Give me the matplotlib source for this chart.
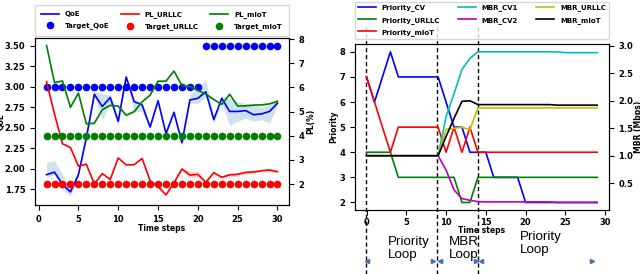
import matplotlib
matplotlib.use('Agg')
import matplotlib.pyplot as plt
from matplotlib.transforms import blended_transform_factory

# ---------------- left panel data ----------------
t_left = [1, 2, 3, 4, 5, 6, 7, 8, 9, 10, 11, 12, 13, 14, 15,
          16, 17, 18, 19, 20, 21, 22, 23, 24, 25, 26, 27, 28, 29, 30]
qoe = [1.93, 1.96, 1.81, 1.72, 1.93, 2.38, 2.91, 2.76, 2.87, 2.58,
       3.12, 2.82, 2.78, 2.51, 2.83, 2.43, 2.69, 2.32, 2.84, 2.86,
       2.94, 2.60, 2.86, 2.70, 2.70, 2.71, 2.66, 2.67, 2.70, 2.80]
qoe_lo = [1.90, 1.93, 1.75, 1.67, 1.90, 2.35, 2.88, 2.60, 2.80, 2.53,
          3.10, 2.70, 2.70, 2.49, 2.81, 2.41, 2.67, 2.26, 2.80, 2.80,
          2.88, 2.56, 2.80, 2.53, 2.58, 2.62, 2.58, 2.60, 2.56, 2.77]
qoe_hi = [2.08, 2.10, 1.93, 1.75, 1.96, 2.40, 2.94, 2.92, 2.90, 2.62,
          3.14, 2.85, 2.80, 2.53, 2.85, 2.45, 2.71, 2.35, 2.90, 3.00,
          3.08, 2.64, 2.89, 2.86, 2.82, 2.80, 2.78, 2.75, 2.78, 2.83]
pl_urllc = [6.24, 4.90, 3.67, 3.51, 2.74, 2.82, 2.00, 2.43, 2.19, 3.08,
            2.79, 2.80, 3.06, 2.14, 1.89, 1.55, 2.05, 2.62, 2.37, 2.40,
            2.07, 2.47, 2.28, 2.38, 2.40, 2.48, 2.50, 2.55, 2.58, 2.51]
pl_urllc_lo = [6.22, 4.88, 3.65, 3.49, 2.72, 2.80, 1.98, 2.41, 2.17, 3.06,
               2.77, 2.78, 3.04, 2.12, 1.82, 1.53, 2.03, 2.55, 2.25, 2.28,
               2.04, 2.43, 2.22, 2.30, 2.32, 2.42, 2.45, 2.48, 2.50, 2.46]
pl_urllc_hi = [6.26, 4.92, 3.69, 3.53, 2.76, 2.84, 2.02, 2.45, 2.21, 3.10,
               2.81, 2.82, 3.08, 2.18, 1.96, 1.57, 2.07, 2.68, 2.52, 2.55,
               2.10, 2.51, 2.33, 2.45, 2.48, 2.56, 2.58, 2.62, 2.65, 2.56]
pl_miot = [7.74, 6.20, 6.27, 5.18, 5.77, 4.49, 4.52, 5.08, 5.26, 5.23,
           4.85, 5.00, 5.41, 5.68, 6.26, 6.26, 6.68, 6.08, 6.04, 5.88,
           5.73, 5.50, 5.30, 5.72, 5.23, 5.24, 5.27, 5.28, 5.32, 5.43]
pl_miot_lo = [7.72, 6.18, 6.25, 5.15, 5.74, 4.42, 4.46, 5.05, 5.23, 5.20,
              4.78, 4.93, 5.38, 5.65, 6.23, 6.23, 6.65, 6.05, 6.01, 5.85,
              5.70, 5.47, 5.27, 5.68, 5.20, 5.21, 5.24, 5.25, 5.29, 5.40]
pl_miot_hi = [7.76, 6.22, 6.29, 5.21, 5.80, 4.55, 4.58, 5.11, 5.29, 5.26,
              4.92, 5.07, 5.44, 5.71, 6.29, 6.29, 6.71, 6.11, 6.07, 5.91,
              5.76, 5.53, 5.33, 5.76, 5.26, 5.27, 5.30, 5.31, 5.35, 5.46]
target_qoe = [3.0, 3.0, 3.0, 3.0, 3.0, 3.0, 3.0, 3.0, 3.0, 3.0,
              3.0, 3.0, 3.0, 3.0, 3.0, 3.0, 3.0, 3.0, 3.0, 3.0,
              3.5, 3.5, 3.5, 3.5, 3.5, 3.5, 3.5, 3.5, 3.5, 3.5]
target_urllc = [2, 2, 2, 2, 2, 2, 2, 2, 2, 2, 2, 2, 2, 2, 2,
                2, 2, 2, 2, 2, 2, 2, 2, 2, 2, 2, 2, 2, 2, 2]
target_miot = [4, 4, 4, 4, 4, 4, 4, 4, 4, 4, 4, 4, 4, 4, 4,
               4, 4, 4, 4, 4, 4, 4, 4, 4, 4, 4, 4, 4, 4, 4]

# ---------------- right panel data ----------------
t_right = [0, 1, 2, 3, 4, 5, 6, 7, 8, 9, 10, 11, 12, 13, 14,
           15, 16, 17, 18, 19, 20, 21, 22, 23, 24, 25, 26, 27, 28, 29]
prio_cv = [7, 6, 7, 8, 7, 7, 7, 7, 7, 7, 6, 5, 5, 4, 4,
           4, 3, 3, 3, 3, 2, 2, 2, 2, 2, 2, 2, 2, 2, 2]
prio_urllc = [4, 4, 4, 4, 3, 3, 3, 3, 3, 3, 3, 3, 2, 2, 3,
              3, 3, 3, 3, 3, 3, 3, 3, 3, 3, 3, 3, 3, 3, 3]
prio_miot = [7, 6, 5, 4, 5, 5, 5, 5, 5, 5, 4, 5, 4, 5, 4,
             4, 4, 4, 4, 4, 4, 4, 4, 4, 4, 4, 4, 4, 4, 4]
mbr_cv1 = [1.0, 1.0, 1.0, 1.0, 1.0, 1.0, 1.0, 1.0, 1.0, 1.0, 1.71, 2.13, 2.57, 2.77, 2.89,
           2.89, 2.89, 2.89, 2.89, 2.89, 2.89, 2.89, 2.89, 2.89, 2.89, 2.875, 2.875, 2.875, 2.875, 2.875]
mbr_cv2 = [1.0, 1.0, 1.0, 1.0, 1.0, 1.0, 1.0, 1.0, 1.0, 1.0, 0.74, 0.38, 0.22, 0.19, 0.165,
           0.16, 0.16, 0.16, 0.16, 0.16, 0.16, 0.16, 0.16, 0.16, 0.15, 0.15, 0.15, 0.15, 0.15, 0.15]
mbr_urllc = [1.0, 1.0, 1.0, 1.0, 1.0, 1.0, 1.0, 1.0, 1.0, 1.0, 1.48, 1.50, 1.52, 1.47, 1.87,
             1.87, 1.87, 1.87, 1.87, 1.87, 1.87, 1.87, 1.87, 1.87, 1.87, 1.87, 1.87, 1.87, 1.87, 1.87]
mbr_miot = [1.0, 1.0, 1.0, 1.0, 1.0, 1.0, 1.0, 1.0, 1.0, 1.0, 1.35, 1.68, 1.99, 2.00, 1.93,
            1.93, 1.93, 1.93, 1.93, 1.93, 1.93, 1.93, 1.93, 1.93, 1.92, 1.92, 1.92, 1.92, 1.92, 1.92]

loop_bounds = [-0.1, 8.85, 14.0]
loop_labels = ['Priority\nLoop', 'MBR\nLoop', 'Priority\nLoop']
loop_label_x = [2.7, 10.4, 19.3]
loop_label_top = [0.140, 0.140, 0.156]
arrow_left = [0.0, 9.2, 14.45]
arrow_right = [8.3, 13.8, 28.3]

plt.rcParams['font.family'] = 'DejaVu Sans'
plt.rcParams['font.weight'] = 'bold'
plt.rcParams['axes.labelweight'] = 'bold'

fig = plt.figure(figsize=(6.4, 2.74), dpi=100)

TICK = 6
LAB = 5.5
LEG = 5

# ================= left panel =================
ax = fig.add_axes([0.0547, 0.2518, 0.3969, 0.6095])
ax2 = ax.twinx()

l_qoe, = ax.plot(t_left, qoe, color='blue', lw=1.2, label='QoE')
ax.fill_between(t_left, qoe_lo, qoe_hi, color='tab:blue', alpha=0.22, lw=0)
s_qoe = ax.scatter(t_left, target_qoe, color='blue', s=20, label='Target_QoE', zorder=3)

l_url, = ax2.plot(t_left, pl_urllc, color='red', lw=1.2, label='PL_URLLC')
ax2.fill_between(t_left, pl_urllc_lo, pl_urllc_hi, color='red', alpha=0.15, lw=0)
l_mi, = ax2.plot(t_left, pl_miot, color='green', lw=1.2, label='PL_mIoT')
ax2.fill_between(t_left, pl_miot_lo, pl_miot_hi, color='green', alpha=0.15, lw=0)
s_url = ax2.scatter(t_left, target_urllc, color='red', s=20, label='Target_URLLC', zorder=3)
s_mi = ax2.scatter(t_left, target_miot, color='green', s=20, label='Target_mIoT', zorder=3)

ax.set_ylim(1.56, 3.595)
ax2.set_ylim(1.13, 8.05)
ax.set_xticks([0, 5, 10, 15, 20, 25, 30])
ax.set_yticks([1.75, 2.0, 2.25, 2.5, 2.75, 3.0, 3.25, 3.5])
ax.set_yticklabels(['1.75', '2.00', '2.25', '2.50', '2.75', '3.00', '3.25', '3.50'])
ax2.set_yticks([2, 3, 4, 5, 6, 7, 8])
ax.tick_params(labelsize=TICK)
ax2.tick_params(labelsize=TICK)
ax.set_xlabel('Time steps', fontsize=LAB, labelpad=0.5)
ax.set_ylabel('QoE', fontsize=LAB)
ax.yaxis.set_label_coords(-0.116, 0.5)
ax2.set_ylabel('PL(%)', fontsize=LAB, labelpad=1)

handles = [l_qoe, s_qoe, l_url, s_url, l_mi, s_mi]
ax2.legend(handles, [h.get_label() for h in handles], ncol=3,
           loc='lower left', bbox_to_anchor=(0.0, 1.01, 1.0, 0.19), mode='expand',
           borderaxespad=0, prop={'size': LEG, 'weight': 'bold'}, handlelength=2.6,
           borderpad=0.9, labelspacing=0.75)

# ================= right panel =================
bx = fig.add_axes([0.5547, 0.2336, 0.3964, 0.6047])
bx2 = bx.twinx()

h1, = bx.plot(t_right, prio_cv, color='blue', lw=1.2, label='Priority_CV')
h2, = bx.plot(t_right, prio_urllc, color='green', lw=1.2, label='Priority_URLLC')
h3, = bx.plot(t_right, prio_miot, color='red', lw=1.2, label='Priority_mIoT')
h4, = bx2.plot(t_right, mbr_cv1, color='c', lw=1.2, label='MBR_CV1')
h5, = bx2.plot(t_right, mbr_cv2, color='m', lw=1.2, label='MBR_CV2')
h6, = bx2.plot(t_right, mbr_urllc, color='y', lw=1.2, label='MBR_URLLC')
h7, = bx2.plot(t_right, mbr_miot, color='k', lw=1.2, label='MBR_mIoT')

bx.set_xlim(-1.45, 30.45)
bx.set_xticks([0, 5, 10, 15, 20, 25, 30])
bx.set_yticks([2, 3, 4, 5, 6, 7, 8])
bx2.set_yticks([0.5, 1.0, 1.5, 2.0, 2.5, 3.0])
bx.tick_params(labelsize=TICK)
bx.tick_params(axis='x', pad=2)
bx2.tick_params(labelsize=TICK)
bx.set_xlabel('Time steps', fontsize=LAB, labelpad=-0.5)
bx.set_ylabel('Priority', fontsize=LAB, labelpad=1)
bx2.set_ylabel('MBR (Mbps)', fontsize=LAB)
bx2.yaxis.set_label_coords(1.098, 0.5)

hs = [h1, h2, h3, h4, h5, h6, h7]
bx2.legend(hs, [h.get_label() for h in hs], ncol=3,
           loc='lower left', bbox_to_anchor=(0.0, 1.035, 1.0, 0.23), mode='expand',
           borderaxespad=0, prop={'size': LEG, 'weight': 'bold'}, handlelength=2.6,
           labelspacing=0.75)

trans = blended_transform_factory(bx.transData, fig.transFigure)
for xb in loop_bounds:
    bx.plot([xb, xb], [0.0, 0.9], transform=trans, clip_on=False, color='k',
            lw=1.0, ls=(0, (3, 2)), zorder=1)
for xl, yt, txt in zip(loop_label_x, loop_label_top, loop_labels):
    t = fig.text(0, 0, txt, fontsize=9.6, family='Liberation Sans',
                 weight='normal', va='top', ha='left', linespacing=1.1)
    t.set_transform(trans)
    t.set_position((xl, yt))
bx.plot(arrow_left, [0.047] * len(arrow_left), transform=trans, clip_on=False,
        ls='none', marker='<', ms=3, color='#4472c4')
bx.plot(arrow_right, [0.047] * len(arrow_right), transform=trans, clip_on=False,
        ls='none', marker='>', ms=3, color='#4472c4')

fig.savefig('out.png', dpi=100)
